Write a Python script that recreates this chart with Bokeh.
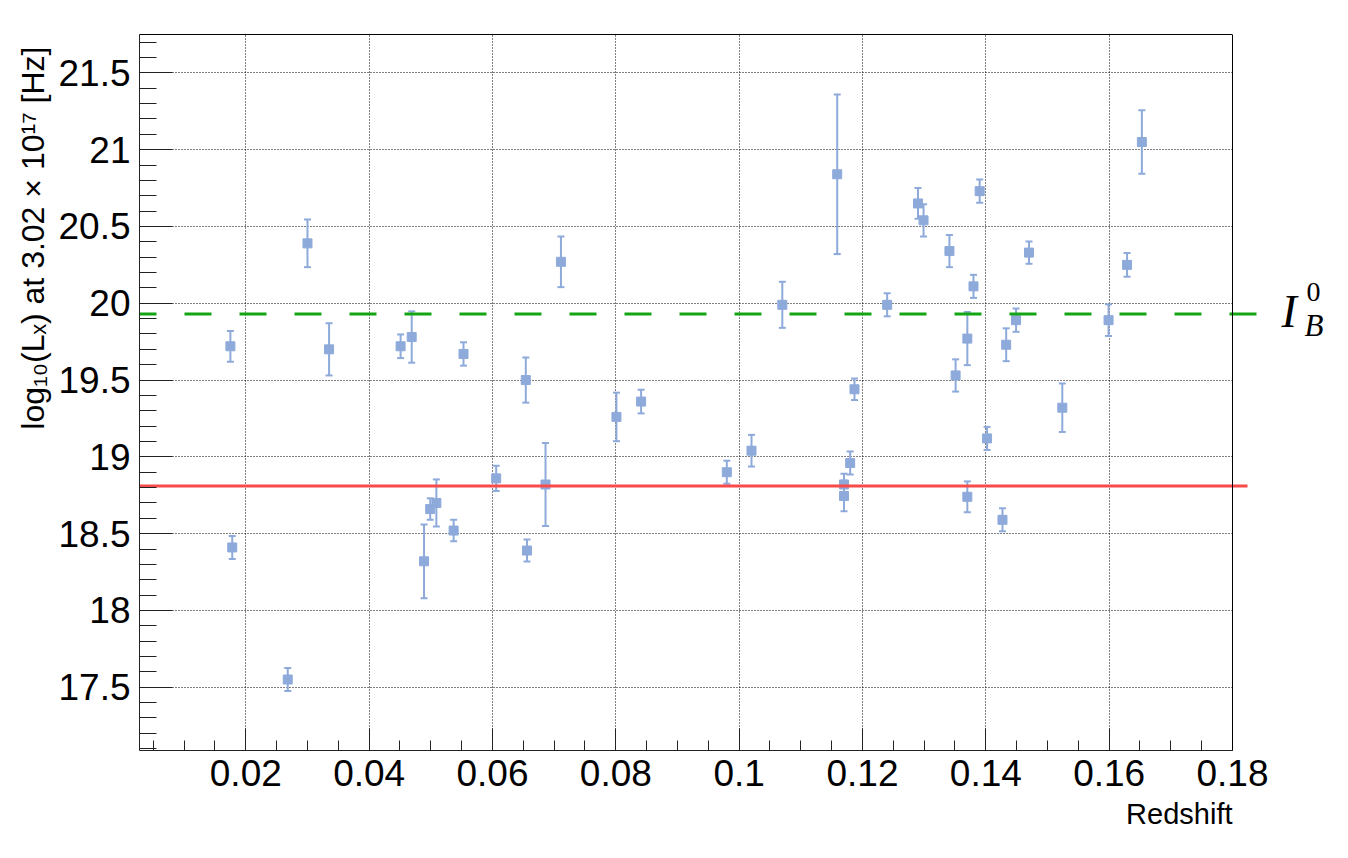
import numpy as np
from bokeh.plotting import figure
from bokeh.models import (ColumnDataSource, Whisker, TeeHead, Span, Label, Title,
                          Range1d, FixedTicker, LinearAxis)
from bokeh.embed import file_html
from bokeh.resources import INLINE

# ---------------- data ----------------
redshift = [0.0175, 0.0178, 0.0268, 0.0300, 0.0335, 0.0451, 0.0469, 0.0489, 0.0499,
            0.0509, 0.0537, 0.0553, 0.0606, 0.0654, 0.0656, 0.0686, 0.0711, 0.0801,
            0.0841, 0.0980, 0.1020, 0.1070, 0.1159, 0.1170, 0.1170, 0.1180, 0.1187,
            0.1240, 0.1290, 0.1299, 0.1341, 0.1351, 0.1370, 0.1370, 0.1380, 0.1390,
            0.1402, 0.1427, 0.1433, 0.1449, 0.1470, 0.1524, 0.1599, 0.1629, 0.1653]
log_lx = [19.72, 18.41, 17.55, 20.39, 19.70, 19.72, 19.78, 18.32, 18.66,
          18.70, 18.52, 19.67, 18.86, 19.50, 18.39, 18.82, 20.27, 19.26,
          19.36, 18.90, 19.04, 19.99, 20.84, 18.82, 18.745, 18.96, 19.44,
          19.99, 20.65, 20.54, 20.34, 19.53, 19.77, 18.74, 20.11, 20.73,
          19.12, 18.59, 19.73, 19.89, 20.33, 19.32, 19.89, 20.25, 21.05]
log_lx_err = [0.10, 0.075, 0.075, 0.155, 0.17, 0.077, 0.167, 0.24, 0.07,
              0.153, 0.07, 0.076, 0.082, 0.147, 0.072, 0.27, 0.165, 0.158,
              0.077, 0.075, 0.103, 0.15, 0.52, 0.07, 0.10, 0.075, 0.07,
              0.075, 0.10, 0.105, 0.105, 0.105, 0.173, 0.10, 0.075, 0.076,
              0.075, 0.075, 0.107, 0.076, 0.073, 0.158, 0.103, 0.077, 0.206]

ib0_level = 19.93      # green dashed line (I_B^0)
red_level = 18.81      # red solid line

x_ticks = [0.02, 0.04, 0.06, 0.08, 0.10, 0.12, 0.14, 0.16, 0.18]
x_tick_labels = ["0.02", "0.04", "0.06", "0.08", "0.1", "0.12", "0.14", "0.16", "0.18"]
y_ticks = [17.5, 18.0, 18.5, 19.0, 19.5, 20.0, 20.5, 21.0, 21.5]
y_tick_labels = ["17.5", "18", "18.5", "19", "19.5", "20", "20.5", "21", "21.5"]

# axis extent (the drawn box) and the extra space at the right for the I_B^0 label
X_START, X_AXIS_END = 0.00276, 0.18
Y_START, Y_END = 17.088, 21.75

# ---------------- geometry ----------------
BORDER_L, BORDER_T = 139, 34
BOX_W, BOX_H = 1093, 716
EXTRA_W = 98                      # frame extension to the right (label area)
PX_PER_X = BOX_W / (X_AXIS_END - X_START)
X_END = X_AXIS_END + EXTRA_W / PX_PER_X
GREEN_EXT = 30 / PX_PER_X          # dashed line runs a bit past the box
RED_EXT = 15 / PX_PER_X

PT_COLOR = "#8eaadb"
FONT = "Liberation Sans"

p = figure(width=BORDER_L + BOX_W + EXTRA_W + 10, height=850,
           output_backend="svg", toolbar_location=None,
           x_range=Range1d(X_START, X_END), y_range=Range1d(Y_START, Y_END),
           min_border_left=BORDER_L, min_border_right=10, min_border_top=BORDER_T,
           min_border_bottom=850 - BORDER_T - BOX_H)
p.background_fill_color = "white"
p.border_fill_color = "white"
p.outline_line_color = None

x_minor = [round(v, 4) for v in np.arange(0.005, 0.1801, 0.005)]
y_minor = [round(v, 2) for v in np.arange(17.1, 21.71, 0.1)]
p.xaxis.ticker = FixedTicker(ticks=x_ticks, minor_ticks=x_minor)
p.yaxis.ticker = FixedTicker(ticks=y_ticks, minor_ticks=y_minor)
p.xaxis.major_label_overrides = dict(zip(x_ticks, x_tick_labels))
p.yaxis.major_label_overrides = dict(zip(y_ticks, y_tick_labels))
p.xaxis.bounds = (X_START, X_AXIS_END)

for ax in (p.xaxis, p.yaxis):
    ax.major_label_text_font = FONT
    ax.major_label_text_font_size = "37px"
    ax.major_label_text_color = "black"
    ax.axis_line_color = "#222222"
    ax.major_tick_line_color = "#222222"
    ax.minor_tick_line_color = "#222222"
    ax.major_tick_out = 0
    ax.minor_tick_out = 0
p.xaxis.major_tick_in = 22
p.xaxis.minor_tick_in = 10
p.yaxis.major_tick_in = 33
p.yaxis.minor_tick_in = 17
p.xaxis.major_label_standoff = 9
p.yaxis.major_label_standoff = 9

# top edge of the box
top_axis = LinearAxis(ticker=FixedTicker(ticks=[]), bounds=(X_START, X_AXIS_END),
                      axis_line_color="black", major_label_text_font_size="0px",
                      major_tick_line_color=None, minor_tick_line_color=None)
p.add_layout(top_axis, "above")

p.grid.grid_line_color = "black"
p.grid.grid_line_dash = "1 2"
p.grid.grid_line_width = 1
p.grid.grid_line_alpha = 1.0

# blank out the label area at the right of the box
p.quad(left=[X_AXIS_END], right=[X_END], bottom=[Y_START], top=[Y_END],
       fill_color="white", line_color=None)

# ---------------- data marks ----------------
src = ColumnDataSource(dict(
    z=redshift, y=log_lx,
    lo=[v - e for v, e in zip(log_lx, log_lx_err)],
    hi=[v + e for v, e in zip(log_lx, log_lx_err)],
))
p.add_layout(Whisker(source=src, base="z", upper="hi", lower="lo", dimension="height",
                     line_color=PT_COLOR, line_width=2,
                     upper_head=TeeHead(size=7, line_color=PT_COLOR, line_width=2),
                     lower_head=TeeHead(size=7, line_color=PT_COLOR, line_width=2)))
p.scatter("z", "y", source=src, marker="square", size=9,
          fill_color=PT_COLOR, line_color=PT_COLOR)

p.segment(x0=[X_START], y0=[ib0_level], x1=[X_AXIS_END + GREEN_EXT], y1=[ib0_level],
          line_color="#14a514", line_width=3, line_dash="27 28", line_dash_offset=10)
p.segment(x0=[X_START], y0=[red_level], x1=[X_AXIS_END + RED_EXT], y1=[red_level],
          line_color="#fa4b4b", line_width=3)

# right edge of the box
p.add_layout(Span(location=X_AXIS_END, dimension="height", line_color="black",
                  line_width=1))

# ---------------- texts ----------------
p.add_layout(Title(text="log₁₀(Lₓ) at 3.02 × 10¹⁷ [Hz]", align="right",
                   text_font=FONT, text_font_size="32px", text_font_style="normal",
                   text_color="black", offset=12), "left")
p.add_layout(Title(text="Redshift", align="right", text_font=FONT,
                   text_font_size="29px", text_font_style="normal",
                   text_color="black", offset=EXTRA_W, standoff=14), "below")

p.add_layout(Label(x=X_AXIS_END, y=ib0_level, x_offset=49, y_offset=3, text="I",
                   text_font="Liberation Serif", text_font_style="italic",
                   text_font_size="46px", text_align="left", text_baseline="alphabetic",
                   text_color="black"))
p.add_layout(Label(x=X_AXIS_END, y=ib0_level, x_offset=74, y_offset=22, text="0",
                   text_font="Liberation Serif", text_font_size="28px",
                   text_align="left", text_baseline="alphabetic", text_color="black"))
p.add_layout(Label(x=X_AXIS_END, y=ib0_level, x_offset=72, y_offset=-11, text="B",
                   text_font="Liberation Serif", text_font_style="italic",
                   text_font_size="31px", text_align="left", text_baseline="alphabetic",
                   text_color="black"))

open("out.html", "w").write(file_html(p, INLINE))
